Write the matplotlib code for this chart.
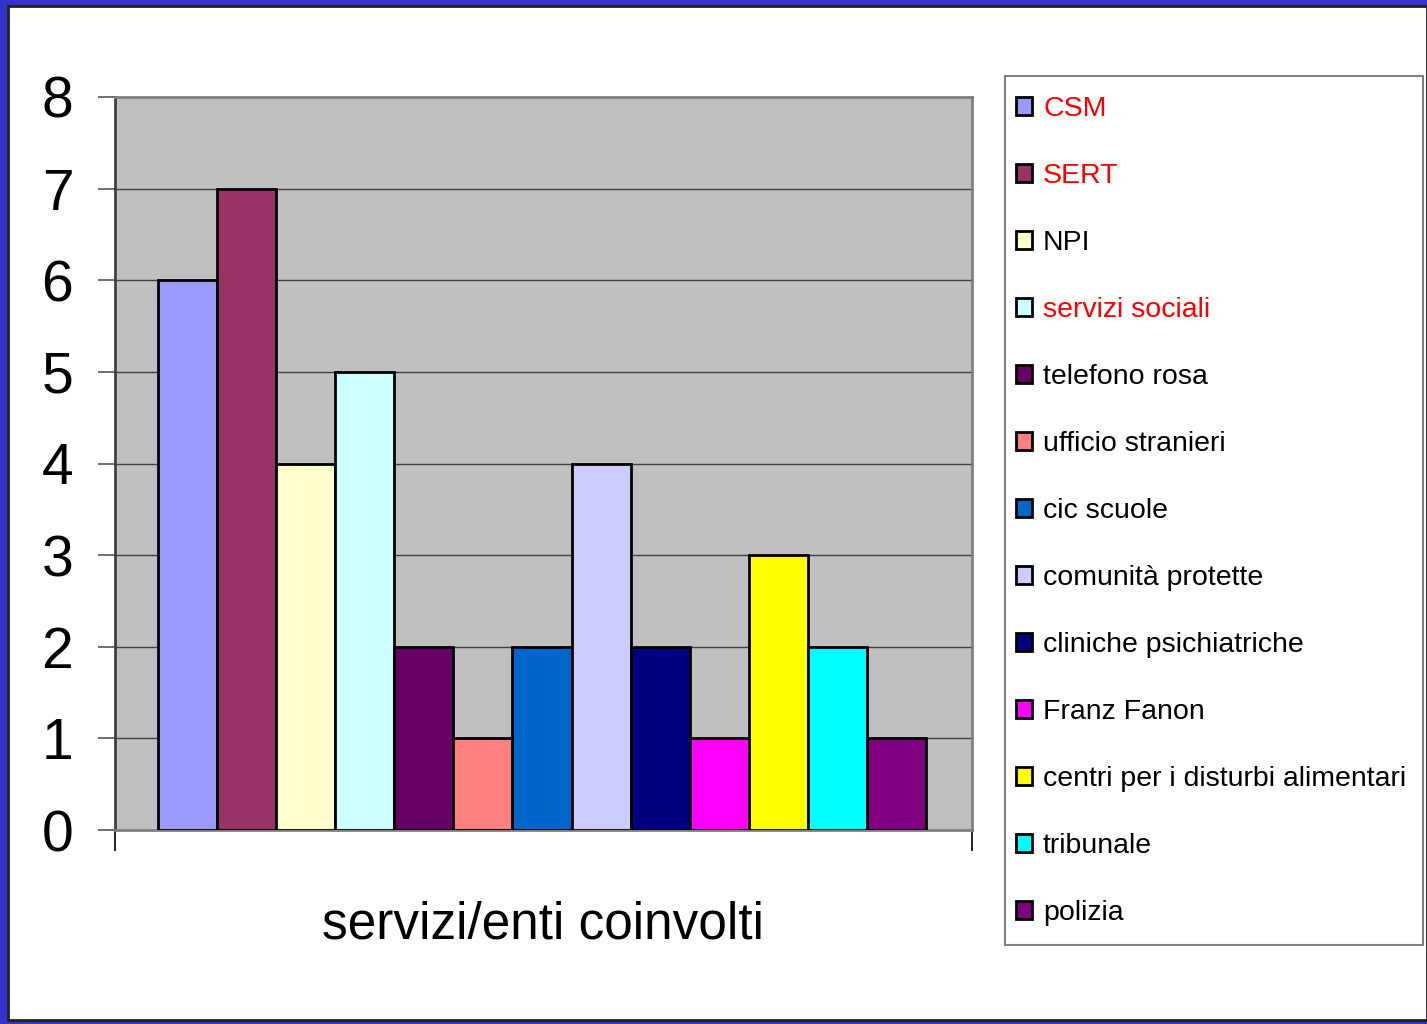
import matplotlib
matplotlib.use("Agg")
import matplotlib.pyplot as plt
from matplotlib.patches import Rectangle, Patch

categories = ["CSM", "SERT", "NPI", "servizi sociali", "telefono rosa",
              "ufficio stranieri", "cic scuole", "comunità protette",
              "cliniche psichiatriche", "Franz Fanon",
              "centri per i disturbi alimentari", "tribunale", "polizia"]
values = [6, 7, 4, 5, 2, 1, 2, 4, 2, 1, 3, 2, 1]
colors = ["#9999FF", "#993366", "#FFFFCC", "#CCFFFF", "#660066", "#FF8080",
          "#0066CC", "#CCCCFF", "#000080", "#FF00FF", "#FFFF00", "#00FFFF",
          "#800080"]
label_colors = ["red", "red", "black", "red"] + ["black"] * 9
yticks = [0, 1, 2, 3, 4, 5, 6, 7, 8]
xlabel = "servizi/enti coinvolti"

font = "Liberation Sans"

fig = plt.figure(figsize=(14.27, 10.24), dpi=100)
W, H = 1427, 1024

# blue frame
fig.patches.append(Rectangle((0, 0), 1, 1, transform=fig.transFigure,
                             facecolor="#3333CC", edgecolor="none", zorder=-10))
fig.patches.append(Rectangle((8 / W, 4 / H), 1 - 8 / W, 1 - 10 / H,
                             transform=fig.transFigure, facecolor="white",
                             edgecolor="#222222", linewidth=2, zorder=-9))
# legend box
fig.patches.append(Rectangle((1005 / W, 1 - 945 / H), (1423 - 1005) / W,
                             (945 - 76) / H, transform=fig.transFigure,
                             facecolor="white", edgecolor="#808080",
                             linewidth=1.5, zorder=-5))

ax = fig.add_axes([115 / W, 1 - 830 / H, (972 - 115) / W, (830 - 97) / H])
ax.set_facecolor("#C0C0C0")
x = list(range(len(values)))
ax.bar(x, values, width=1.0, color=colors, edgecolor="black", linewidth=2, zorder=3)
xl = (-0.5 - 43 / 59.08, 12.5 + 46 / 59.08)
ax.set_xlim(*xl)
ax.set_ylim(0, 8)
ax.set_yticks(yticks)
ax.set_yticklabels([str(v) for v in yticks], fontsize=41, fontfamily=font)
ax.yaxis.grid(True, color="#404040", linewidth=1, zorder=0)
ax.set_axisbelow(True)
ax.tick_params(axis="y", length=12, width=1.2, color="#555555", pad=18)
ax.set_xticks(list(xl))
ax.set_xticklabels(["", ""])
ax.tick_params(axis="x", length=15, width=1.2, color="black")
for s in ["top", "right", "bottom"]:
    ax.spines[s].set_color("#808080")
    ax.spines[s].set_linewidth(2)
ax.spines["left"].set_color("#404040")
ax.spines["left"].set_linewidth(2)
ax.set_xlabel(xlabel, fontsize=37, fontfamily=font, labelpad=32)

handles = [Patch(facecolor=c, edgecolor="black", linewidth=2) for c in colors]
leg = fig.legend(handles, categories, loc="upper left",
                 bbox_to_anchor=(1016 / W, 1 - 96 / H), frameon=False,
                 prop={"family": font, "size": 20.5},
                 handlelength=0.55, handleheight=0.55, handletextpad=0.4,
                 labelspacing=1.44, borderpad=0, borderaxespad=0)
for t, c in zip(leg.get_texts(), label_colors):
    t.set_color(c)

fig.savefig("out.png", dpi=100)
